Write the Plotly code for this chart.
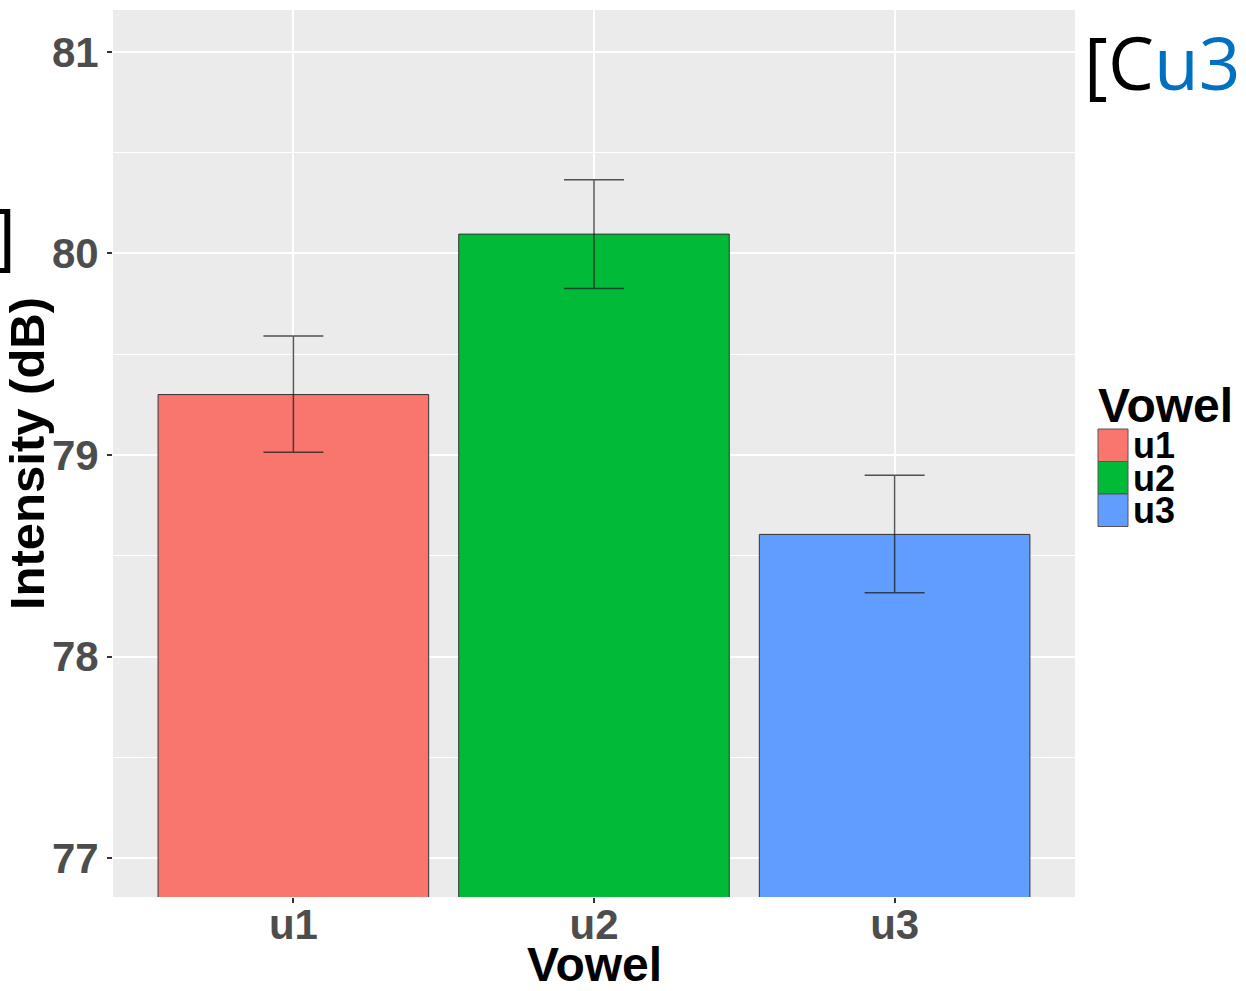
import plotly.graph_objects as go

vowels = ["u1", "u2", "u3"]
intensity = [79.30, 80.096, 78.606]
err_plus = [0.29, 0.27, 0.293]
err_minus = [0.286, 0.27, 0.29]
colors = ["#F8766D", "#00BA38", "#619CFF"]
y_ticks = [77, 78, 79, 80, 81]

W, H = 1246, 991
L, R, T, B = 113, 1075, 10, 897
pw, ph = R - L, B - T

def px(x):
    return (x - L) / pw

def py(y):
    return (B - y) / ph

fig = go.Figure()
fig.add_trace(go.Bar(
    x=vowels, y=intensity, width=0.9,
    marker=dict(color=colors, line=dict(color="#333333", width=1)),
    error_y=dict(type="data", symmetric=False, array=err_plus, arrayminus=err_minus,
                 color="rgba(30,30,30,0.75)", thickness=1.5, width=30),
    showlegend=False,
))

tickfont = dict(family="Liberation Sans", size=42, color="#4D4D4D", weight="bold")
titlefont = dict(family="Liberation Sans", size=49, color="black", weight="bold")

fig.update_layout(
    width=W, height=H,
    margin=dict(l=L, r=W - R, t=T, b=H - B, autoexpand=False),
    paper_bgcolor="white",
    plot_bgcolor="#EBEBEB",
    font=dict(family="Liberation Sans"),
    xaxis=dict(
        range=[-0.6, 2.6], showgrid=True, gridcolor="white", gridwidth=2,
        ticks="outside", ticklen=5, tickcolor="#333333", tickwidth=1.5,
        tickfont=tickfont, zeroline=False, showline=False, automargin=False,
        ticklabelstandoff=-14,
    ),
    yaxis=dict(
        range=[76.807, 81.208], tickvals=y_ticks, showgrid=True, gridcolor="white", gridwidth=2,
        ticks="outside", ticklen=5, tickcolor="#333333", tickwidth=1.5,
        tickfont=tickfont, zeroline=False, showline=False, automargin=False,
        minor=dict(dtick=0.5, tick0=76.5, showgrid=True, gridcolor="white", gridwidth=1, ticks=""),
        title=dict(text="Intensity (dB)", font=titlefont, standoff=8),
    ),
)

# X axis title
fig.add_annotation(xref="paper", yref="paper", x=0.5, y=py(964), xanchor="center", yanchor="middle",
                   text="<b>Vowel</b>", showarrow=False, font=dict(family="Liberation Sans", size=48, color="black"))

# Manual ggplot-style legend
fig.add_annotation(xref="paper", yref="paper", x=px(1096), y=py(405), xanchor="left", yanchor="middle",
                   text="<b>Vowel</b>", showarrow=False, font=dict(family="Liberation Sans", size=48, color="black"))
top0, step = 429, 32.5
for i, (v, c) in enumerate(zip(vowels, colors)):
    y0 = top0 + i * step
    y1 = y0 + step
    fig.add_shape(type="rect", xref="paper", yref="paper", x0=px(1098), x1=px(1128), y0=py(y1), y1=py(y0),
                  fillcolor=c, line=dict(color="#555555", width=1))
    fig.add_annotation(xref="paper", yref="paper", x=px(1131), y=py((y0 + y1) / 2), xanchor="left", yanchor="middle",
                       text=f"<b>{v}</b>", showarrow=False, height=28,
                       font=dict(family="Liberation Sans", size=36, color="black"))

# Text fragments around the chart
fig.add_annotation(xref="paper", yref="paper", x=px(1082), y=py(61), xanchor="left", yanchor="middle",
                   text="[C<span style='color:#0070C0'>u3</span>", showarrow=False,
                   font=dict(family="Open Sans", size=73, color="black"))
fig.add_annotation(xref="paper", yref="paper", x=px(18), y=py(232), xanchor="right", yanchor="middle",
                   text="]", showarrow=False,
                   font=dict(family="Open Sans", size=74, color="black"))

fig.write_html("out.html")
